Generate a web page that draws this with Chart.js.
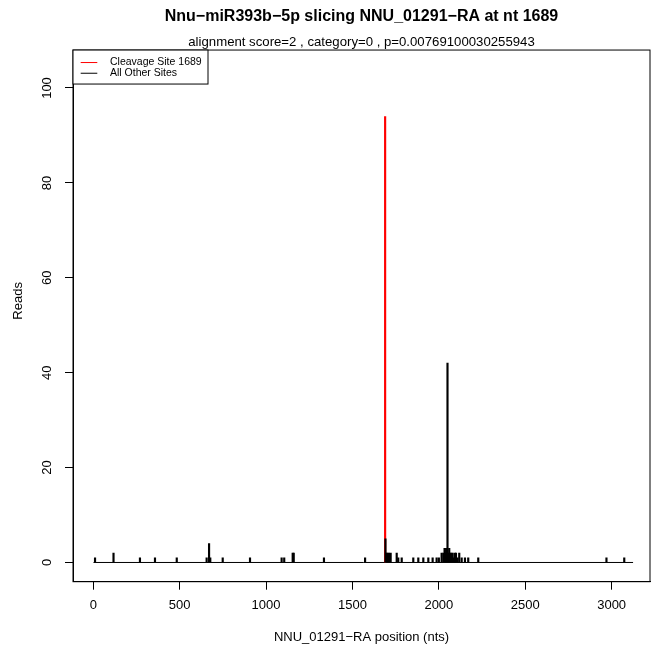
<!DOCTYPE html>
<html>
<head>
<meta charset="utf-8">
<script src="https://cdn.jsdelivr.net/npm/chart.js@4.4.0/dist/chart.umd.min.js"></script>
<style>
  html, body { margin: 0; padding: 0; background: #fff; overflow: hidden; }
</style>
</head>
<body>
<canvas id="chart" width="651" height="653"></canvas>
<script>
// values
const cleavagePos = [1689];
const cleavageReads = [94];

const otherPos = [10, 117, 270, 357, 483, 656, 670, 677, 749, 907, 1090, 1105, 1154, 1160, 1335,
  1573, 1691, 1697, 1702, 1711, 1721, 1756, 1765, 1785, 1852, 1881, 1910, 1939, 1964, 1987, 2000,
  2016, 2026, 2033, 2038, 2042, 2046, 2050, 2055, 2060, 2066, 2072, 2080, 2088, 2093, 2099, 2108,
  2118, 2132, 2151, 2170, 2228, 2970, 3073];
const otherReads = [1, 2, 1, 1, 1, 1, 4, 1, 1, 1, 1, 1, 2, 2, 1,
  1, 5, 2, 2, 2, 2, 2, 1, 1, 1, 1, 1, 1, 1, 1, 1,
  2, 2, 3, 2, 3, 2, 42, 2, 3, 2, 2, 2, 1, 2, 2, 1,
  2, 1, 1, 1, 1, 1, 1];

const transcriptSpan = [1, 3124];

const xTickValues = [0, 500, 1000, 1500, 2000, 2500, 3000];
const yTickValues = [0, 20, 40, 60, 80, 100];

const yLabel = 'Reads';

Chart.defaults.font.family = '"Liberation Sans", Arial, sans-serif';
Chart.defaults.color = '#000';

const boxPlugin = {
  id: 'plotBox',
  afterDatasetsDraw(chart) {
    const a = chart.chartArea;
    const ctx = chart.ctx;
    ctx.save();
    ctx.strokeStyle = '#000';
    ctx.lineWidth = 1;
    ctx.strokeRect(a.left, a.top, a.right - a.left, a.bottom - a.top);
    ctx.restore();
  }
};

// y axis label, sits a bit above the middle of the plot like the original
const yLabelPlugin = {
  id: 'yLabel',
  afterDraw(chart) {
    const a = chart.chartArea;
    const ctx = chart.ctx;
    ctx.save();
    ctx.translate(18, (a.top + a.bottom) / 2 - 15);
    ctx.rotate(-Math.PI / 2);
    ctx.font = '13px "Liberation Sans", Arial, sans-serif';
    ctx.fillStyle = '#000';
    ctx.textAlign = 'center';
    ctx.textBaseline = 'middle';
    ctx.fillText(yLabel, 0, 0);
    ctx.restore();
  }
};

const legendPlugin = {
  id: 'cornerLegend',
  afterDraw(chart) {
    const a = chart.chartArea;
    const ctx = chart.ctx;
    const items = chart.data.datasets.filter(d => d.type !== 'line');
    const x0 = a.left, y0 = a.top;
    ctx.save();
    ctx.fillStyle = '#fff';
    ctx.fillRect(x0, y0, 135, 34);
    ctx.strokeStyle = '#000';
    ctx.lineWidth = 1;
    ctx.strokeRect(x0, y0, 135, 34);
    ctx.font = '10.5px "Liberation Sans", Arial, sans-serif';
    ctx.textBaseline = 'middle';
    items.forEach((d, i) => {
      const y = y0 + 12.5 + i * 10.7;
      ctx.strokeStyle = d.backgroundColor;
      ctx.beginPath();
      ctx.moveTo(x0 + 7.7, y);
      ctx.lineTo(x0 + 24.3, y);
      ctx.stroke();
      ctx.fillStyle = '#000';
      ctx.fillText(d.label, x0 + 37, y);
    });
    ctx.restore();
  }
};

new Chart(document.getElementById('chart'), {
  type: 'bar',
  data: {
    datasets: [
      {
        type: 'line',
        label: 'transcript',
        data: transcriptSpan.map(x => ({ x: x, y: 0 })),
        borderColor: '#000',
        borderWidth: 1,
        pointRadius: 0,
        order: 2
      },
      {
        label: 'Cleavage Site 1689',
        data: cleavagePos.map((x, i) => ({ x: x, y: cleavageReads[i] })),
        backgroundColor: '#ff0000',
        barThickness: 1.5,
        grouped: false,
        order: 1
      },
      {
        label: 'All Other Sites',
        data: otherPos.map((x, i) => ({ x: x, y: otherReads[i] })),
        backgroundColor: '#000000',
        barThickness: 1.5,
        grouped: false,
        order: 0
      }
    ]
  },
  options: {
    responsive: false,
    animation: false,
    layout: { padding: { left: 0, right: 1, top: 0, bottom: 0 } },
    plugins: {
      legend: { display: false },
      tooltip: { enabled: false },
      title: {
        display: true,
        fullSize: false,
        text: 'Nnu\u2212miR393b\u22125p slicing NNU_01291\u2212RA at nt 1689',
        font: { size: 16, weight: 'bold' },
        color: '#000',
        padding: { top: 7.4, bottom: 4 }
      },
      subtitle: {
        display: true,
        fullSize: false,
        text: 'alignment score=2 , category=0 , p=0.00769100030255943',
        font: { size: 13.2 },
        color: '#000',
        padding: { top: 3.4, bottom: 0.2 }
      }
    },
    scales: {
      x: {
        type: 'linear',
        offset: false,
        min: -117.5,
        max: 3222,
        afterBuildTicks: s => { s.ticks = xTickValues.map(v => ({ value: v })); },
        afterFit: s => { s.height = 71.3; },
        ticks: { font: { size: 13 }, padding: 8, maxRotation: 0, callback: v => String(v) },
        grid: { offset: false, drawOnChartArea: false, drawTicks: true, tickLength: 8, color: '#000' },
        border: { display: true, color: '#000' },
        title: {
          display: true,
          text: 'NNU_01291\u2212RA position (nts)',
          font: { size: 13 },
          padding: { top: 0, bottom: 8.2 }
        }
      },
      y: {
        min: -4.05,
        max: 108,
        afterBuildTicks: s => { s.ticks = yTickValues.map(v => ({ value: v })); },
        afterFit: s => { s.width = 73; },
        ticks: { font: { size: 13 }, padding: 7, minRotation: 90, maxRotation: 90, crossAlign: 'center', callback: v => String(v) },
        grid: { drawOnChartArea: false, drawTicks: true, tickLength: 8, color: '#000' },
        border: { display: true, color: '#000' },
        title: { display: false }
      }
    }
  },
  plugins: [boxPlugin, legendPlugin, yLabelPlugin]
});
</script>
</body>
</html>
